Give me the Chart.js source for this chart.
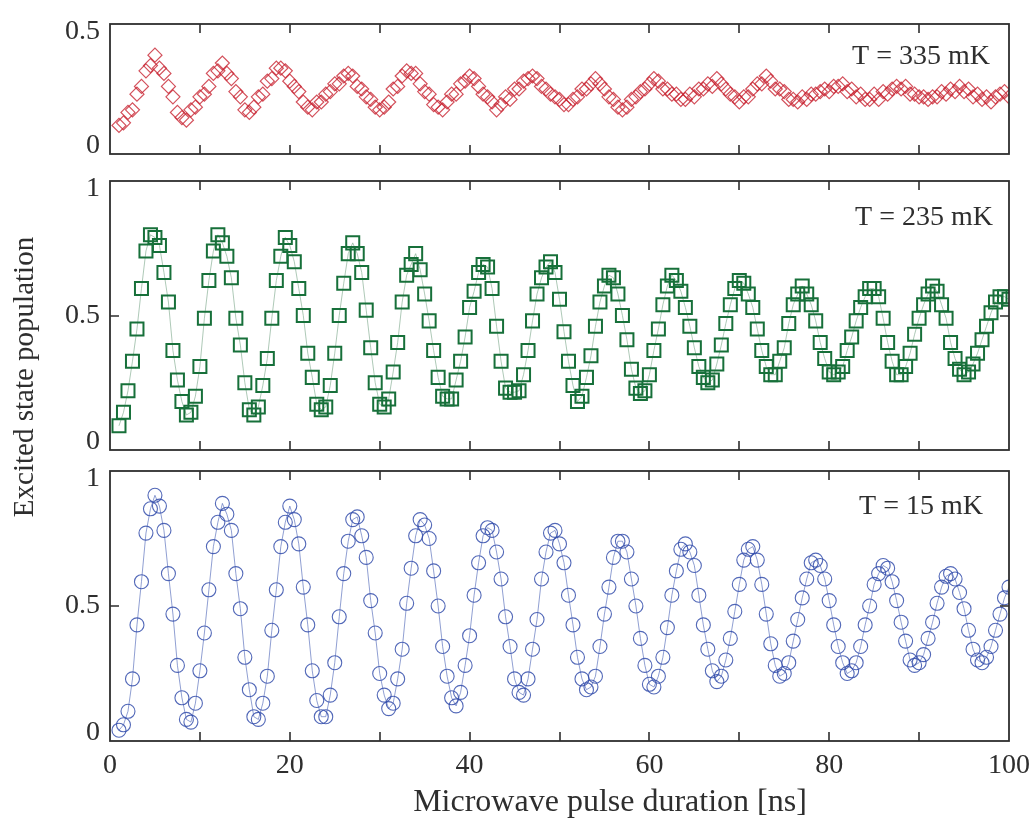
<!DOCTYPE html>
<html>
<head>
<meta charset="utf-8">
<title>Rabi oscillations vs temperature</title>
<script src="https://cdn.jsdelivr.net/npm/chart.js@4.4.1/dist/chart.umd.min.js"></script>
<style>
  html, body { margin: 0; padding: 0; background: #fff; }
  #wrap { position: relative; width: 1036px; height: 819px; }
  #wrap canvas { position: absolute; left: 0; top: 0; }
</style>
</head>
<body>
<div id="wrap">
  <canvas id="hot" width="1036" height="819"></canvas>
  <canvas id="warm" width="1036" height="819"></canvas>
  <canvas id="cold" width="1036" height="819"></canvas>
</div>
<script>
// pulse durations [ns]
const durations = [
  1, 1.5, 2, 2.5, 3, 3.5, 4, 4.5, 5, 5.5, 6, 6.5, 7, 7.5, 8, 8.5, 9, 9.5, 10, 10.5,
  11, 11.5, 12, 12.5, 13, 13.5, 14, 14.5, 15, 15.5, 16, 16.5, 17, 17.5, 18, 18.5, 19, 19.5, 20, 20.5,
  21, 21.5, 22, 22.5, 23, 23.5, 24, 24.5, 25, 25.5, 26, 26.5, 27, 27.5, 28, 28.5, 29, 29.5, 30, 30.5,
  31, 31.5, 32, 32.5, 33, 33.5, 34, 34.5, 35, 35.5, 36, 36.5, 37, 37.5, 38, 38.5, 39, 39.5, 40, 40.5,
  41, 41.5, 42, 42.5, 43, 43.5, 44, 44.5, 45, 45.5, 46, 46.5, 47, 47.5, 48, 48.5, 49, 49.5, 50, 50.5,
  51, 51.5, 52, 52.5, 53, 53.5, 54, 54.5, 55, 55.5, 56, 56.5, 57, 57.5, 58, 58.5, 59, 59.5, 60, 60.5,
  61, 61.5, 62, 62.5, 63, 63.5, 64, 64.5, 65, 65.5, 66, 66.5, 67, 67.5, 68, 68.5, 69, 69.5, 70, 70.5,
  71, 71.5, 72, 72.5, 73, 73.5, 74, 74.5, 75, 75.5, 76, 76.5, 77, 77.5, 78, 78.5, 79, 79.5, 80, 80.5,
  81, 81.5, 82, 82.5, 83, 83.5, 84, 84.5, 85, 85.5, 86, 86.5, 87, 87.5, 88, 88.5, 89, 89.5, 90, 90.5,
  91, 91.5, 92, 92.5, 93, 93.5, 94, 94.5, 95, 95.5, 96, 96.5, 97, 97.5, 98, 98.5, 99, 99.5, 100
];

// excited state population, T = 335 mK
const pop335 = [
  .11, .12, .16, .17, .23, .26, .32, .34, .38, .33, .31, .26, .22, .16, .14, .13, .17, .18, .22, .23,
  .26, .31, .32, .35, .31, .29, .24, .22, .17, .16, .18, .22, .23, .28, .29, .33, .33, .32, .28, .26,
  .24, .20, .18, .17, .20, .20, .23, .24, .27, .27, .30, .31, .30, .26, .25, .22, .21, .18, .17, .18,
  .20, .25, .26, .30, .32, .31, .31, .27, .24, .23, .19, .18, .17, .20, .23, .23, .27, .28, .30, .29,
  .26, .23, .22, .20, .17, .19, .22, .21, .25, .25, .28, .29, .30, .29, .26, .25, .23, .22, .21, .19,
  .19, .21, .22, .25, .25, .27, .29, .27, .25, .22, .21, .18, .17, .18, .21, .22, .24, .25, .27, .29,
  .28, .25, .25, .23, .23, .21, .21, .23, .22, .25, .25, .27, .26, .29, .27, .25, .23, .22, .20, .22,
  .22, .25, .27, .27, .30, .28, .25, .25, .24, .21, .21, .20, .22, .21, .23, .23, .24, .25, .24, .26,
  .26, .27, .24, .25, .22, .23, .21, .21, .23, .21, .24, .23, .25, .26, .25, .26, .23, .23, .22, .22,
  .21, .22, .22, .24, .23, .25, .24, .26, .24, .25, .22, .23, .21, .22, .20, .22, .23, .24, .22
];

// excited state population, T = 235 mK
const pop235 = [
  .09, .14, .22, .33, .45, .60, .74, .80, .79, .76, .66, .55, .37, .26, .18, .13, .14, .20, .31, .49,
  .63, .74, .80, .77, .72, .64, .49, .39, .25, .15, .13, .16, .24, .34, .49, .63, .72, .79, .76, .70,
  .60, .50, .36, .27, .17, .15, .16, .24, .36, .50, .62, .73, .77, .73, .66, .52, .38, .25, .17, .16,
  .19, .29, .40, .55, .65, .69, .73, .67, .58, .48, .37, .27, .20, .19, .19, .26, .33, .42, .53, .59,
  .66, .69, .68, .60, .46, .33, .23, .215, .215, .22, .28, .37, .48, .58, .64, .68, .70, .66, .56, .44,
  .33, .24, .18, .20, .27, .35, .46, .55, .61, .65, .64, .58, .50, .41, .30, .23, .21, .22, .28, .37,
  .45, .54, .61, .65, .63, .59, .53, .46, .38, .31, .27, .25, .26, .32, .39, .47, .54, .60, .63, .62,
  .58, .53, .45, .37, .31, .28, .28, .33, .38, .47, .54, .58, .61, .58, .54, .48, .40, .34, .29, .28,
  .29, .31, .37, .42, .48, .53, .57, .60, .60, .57, .49, .40, .33, .28, .28, .31, .36, .43, .49, .54,
  .58, .61, .59, .54, .49, .40, .34, .30, .28, .29, .32, .36, .41, .46, .51, .55, .57, .57, .56
];

// excited state population, T = 15 mK
const pop15 = [
  .04, .06, .11, .23, .43, .59, .77, .86, .91, .87, .78, .62, .47, .28, .16, .08, .07, .14, .26, .40,
  .56, .72, .81, .88, .84, .78, .62, .49, .31, .19, .09, .08, .14, .24, .41, .56, .72, .81, .87, .82,
  .73, .57, .43, .26, .15, .09, .09, .17, .29, .46, .62, .74, .82, .83, .76, .68, .52, .40, .25, .17,
  .12, .14, .23, .34, .51, .64, .76, .82, .80, .75, .63, .50, .35, .24, .16, .13, .18, .28, .39, .54,
  .66, .76, .79, .78, .70, .60, .46, .35, .23, .18, .17, .23, .34, .45, .60, .70, .77, .78, .73, .66,
  .54, .43, .31, .23, .19, .20, .24, .35, .47, .57, .68, .74, .74, .70, .60, .50, .38, .28, .21, .20,
  .24, .31, .42, .54, .63, .71, .73, .70, .65, .54, .43, .34, .26, .22, .24, .30, .38, .48, .58, .67,
  .71, .72, .67, .58, .47, .36, .28, .24, .25, .29, .37, .45, .53, .60, .66, .67, .65, .60, .52, .43,
  .35, .29, .25, .26, .29, .35, .43, .50, .58, .62, .65, .64, .59, .52, .44, .37, .30, .28, .29, .32,
  .38, .44, .51, .57, .61, .62, .60, .55, .49, .41, .34, .30, .29, .31, .35, .41, .47, .53, .57
];

const xTicks = [0, 20, 40, 60, 80, 100];

const SERIF = '"Liberation Serif", "DejaVu Serif", serif';
const INK = '#2e2e2e';
const W = 1036, H = 819;

// frame, inward ticks, y labels and the temperature note
const panelFrame = {
  id: 'panelFrame',
  afterDraw(chart, args, opts) {
    const { ctx, chartArea: a, scales: { x, y } } = chart;
    ctx.save();
    ctx.strokeStyle = INK;
    ctx.lineWidth = 1.6;
    ctx.beginPath();
    x.ticks.forEach(t => {
      if (t.value <= x.min || t.value >= x.max) return;
      const px = Math.round(x.getPixelForValue(t.value));
      ctx.moveTo(px, a.bottom); ctx.lineTo(px, a.bottom - 9);
      ctx.moveTo(px, a.top); ctx.lineTo(px, a.top + 9);
    });
    y.ticks.forEach(t => {
      if (t.value <= y.min || t.value >= y.max) return;
      const py = Math.round(y.getPixelForValue(t.value));
      ctx.moveTo(a.left, py); ctx.lineTo(a.left + 9, py);
      ctx.moveTo(a.right, py); ctx.lineTo(a.right - 9, py);
    });
    ctx.stroke();
    ctx.lineWidth = 1.8;
    ctx.strokeRect(a.left, a.top, a.right - a.left, a.bottom - a.top);

    ctx.fillStyle = INK;
    ctx.font = '28px ' + SERIF;
    ctx.textAlign = 'right';
    ctx.textBaseline = 'middle';
    y.ticks.forEach(t => {
      let py = y.getPixelForValue(t.value);
      py = Math.min(Math.max(py, a.top + 8), a.bottom - 8);
      ctx.fillText(String(t.value), a.left - 10, py);
    });

    ctx.font = '28px ' + SERIF;
    ctx.fillText(opts.note, a.right - opts.noteRight, a.top + opts.noteTop);

    if (opts.titles) {
      ctx.textAlign = 'center';
      ctx.font = '32px ' + SERIF;
      ctx.fillText('Microwave pulse duration [ns]', 610, 803);
      ctx.translate(25, 377);
      ctx.rotate(-Math.PI / 2);
      ctx.font = '29px ' + SERIF;
      ctx.fillText('Excited state population', 0, 0);
    }
    ctx.restore();
  }
};

function toPoints(vals) {
  return durations.map((t, i) => ({ x: t, y: vals[i] }));
}

function makePanel(id, cfg) {
  return new Chart(document.getElementById(id), {
    type: 'line',
    data: {
      datasets: [{
        data: toPoints(cfg.values),
        showLine: cfg.showLine,
        borderColor: cfg.lineColor,
        borderWidth: 1,
        pointStyle: cfg.marker,
        pointRadius: cfg.radius,
        pointBorderWidth: cfg.markerWidth,
        pointBorderColor: cfg.color,
        pointBackgroundColor: 'rgba(0,0,0,0)',
        tension: 0
      }]
    },
    options: {
      responsive: false,
      animation: false,
      events: [],
      layout: { padding: { top: cfg.top, bottom: H - cfg.bottom - cfg.xHeight, left: 0, right: W - 1009 } },
      plugins: {
        legend: { display: false },
        tooltip: { enabled: false },
        panelFrame: { note: cfg.note, noteRight: cfg.noteRight, noteTop: cfg.noteTop, titles: cfg.titles }
      },
      scales: {
        x: {
          type: 'linear',
          min: 0,
          max: 100,
          grid: { display: false },
          border: { display: false },
          ticks: {
            display: cfg.xLabels,
            stepSize: 10,
            autoSkip: false,
            maxRotation: 0,
            padding: 0,
            color: INK,
            font: { family: SERIF, size: 28 },
            callback: v => (xTicks.includes(v) ? String(v) : '')
          },
          afterFit: s => { s.height = cfg.xHeight; s.paddingLeft = 0; s.paddingRight = 0; }
        },
        y: {
          min: 0,
          max: cfg.yMax,
          grid: { display: false },
          border: { display: false },
          ticks: { display: false, stepSize: 0.5 },
          afterFit: s => { s.width = 110; }
        }
      }
    },
    plugins: [panelFrame]
  });
}

makePanel('hot', {
  values: pop335, yMax: 0.5, top: 24, bottom: 154, xHeight: 0, xLabels: false,
  marker: 'rectRot', radius: 7, markerWidth: 1.2, color: 'rgba(200,36,50,0.8)',
  showLine: false, lineColor: 'rgba(200,36,50,0.4)',
  note: 'T = 335 mK', noteRight: 19, noteTop: 33
});

makePanel('warm', {
  values: pop235, yMax: 1, top: 181, bottom: 450, xHeight: 0, xLabels: false,
  marker: 'rect', radius: 9.2, markerWidth: 2, color: '#17703a',
  showLine: true, lineColor: 'rgba(120,165,135,0.6)',
  note: 'T = 235 mK', noteRight: 16, noteTop: 37
});

makePanel('cold', {
  values: pop15, yMax: 1, top: 471, bottom: 741, xHeight: 78, xLabels: true,
  marker: 'circle', radius: 7, markerWidth: 1.1, color: 'rgba(52,78,172,0.85)',
  showLine: true, lineColor: 'rgba(70,95,180,0.6)',
  note: 'T = 15 mK', noteRight: 26, noteTop: 36, titles: true
});
</script>
</body>
</html>
